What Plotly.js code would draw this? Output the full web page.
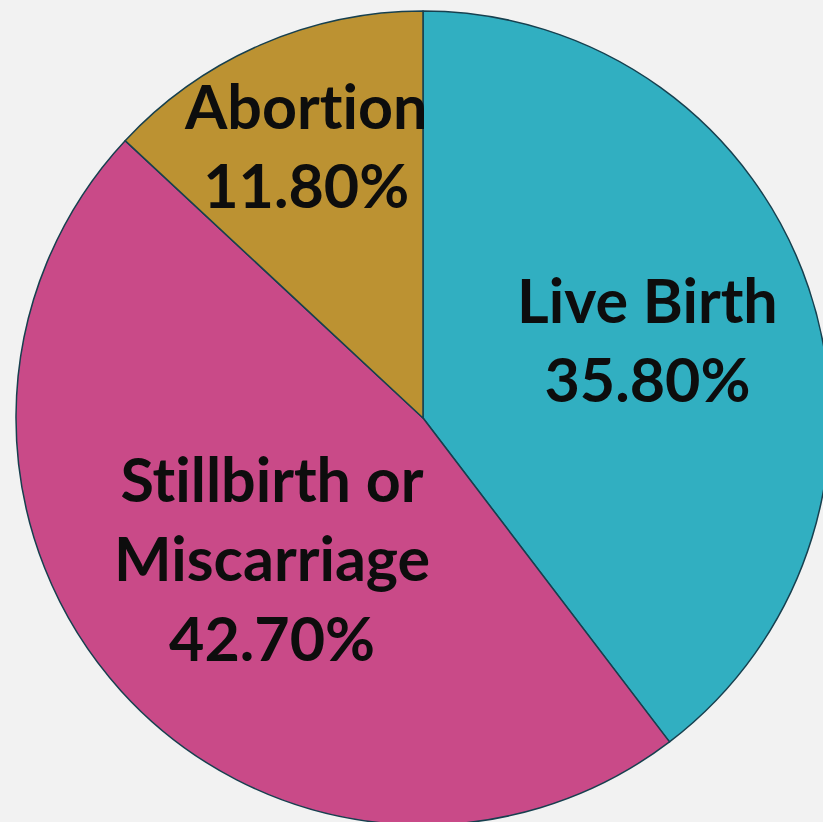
<!DOCTYPE html>
<html><head><meta charset="utf-8">
<script src="https://cdn.plot.ly/plotly-3.0.1.min.js"></script>
<style>html,body{margin:0;padding:0;background:#f2f2f2;overflow:hidden;width:823px;height:822px}#c{width:846px;height:836px}</style>
</head><body><div id="c"></div>
<script>
const categories = ["Live Birth", "Stillbirth or Miscarriage", "Abortion"];
const values = [35.8, 42.7, 11.8];
const colors = ["#31AFC1", "#C94A88", "#BC9232"];
const labelLines = [["Live Birth", "35.80%"], ["St\u200Cillbirth or", "Miscarriage", "42.70%"], ["Abort\u200Cion", "11.80%"]];

const annPos = [
  {x: 653, y: 337},
  {x: 268, y: 562},
  {x: 302, y: 138}
];
const W = 846, H = 836;
const annotations = labelLines.map((lines, i) => ({
  xref: "paper", yref: "paper",
  x: annPos[i].x / W, y: 1 - annPos[i].y / H,
  xanchor: "center", yanchor: "middle",
  text: lines.join("<br>"),
  showarrow: false,
  align: "center",
  font: {family: "Lato, sans-serif", size: 61, color: "#0d0d0d", weight: 700}
}));

Plotly.newPlot("c", [{
  type: "pie",
  labels: categories,
  values: values,
  sort: false,
  direction: "clockwise",
  rotation: 0,
  marker: {colors: colors, line: {color: "#17404f", width: 1.5}},
  textinfo: "none",
  hoverinfo: "none",
  showlegend: false
}], {
  width: W, height: H,
  margin: {l: 11, r: 11, t: 11, b: 11},
  paper_bgcolor: "#f2f2f2",
  plot_bgcolor: "#f2f2f2",
  showlegend: false,
  annotations: annotations
}, {staticPlot: true});
</script></body></html>
